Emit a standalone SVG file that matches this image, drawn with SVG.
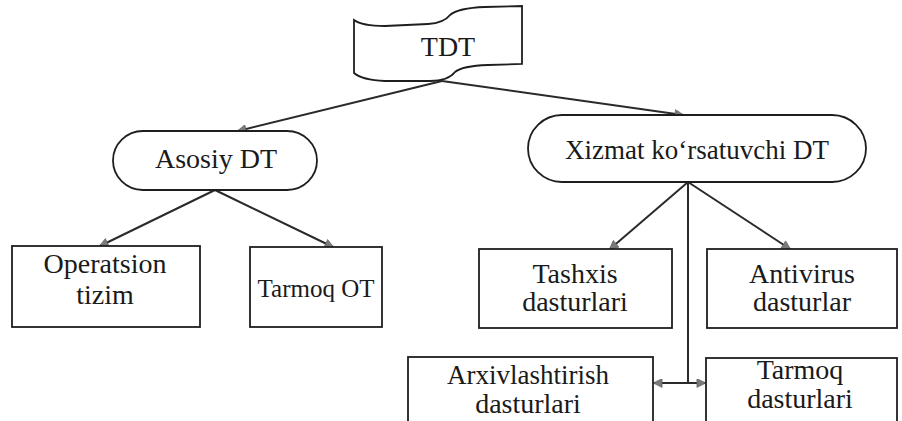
<svg xmlns="http://www.w3.org/2000/svg" width="902" height="421" viewBox="0 0 902 421">
  <style>
    .shape { fill: #ffffff; stroke: #1e1e1e; stroke-width: 1.8; }
    .edge { fill: none; stroke: #2a2a2a; stroke-width: 2; }
    .label { font-family: Liberation Serif, Tinos, DejaVu Serif, Noto Serif, Times New Roman, Times, serif; font-size: 28px; fill: #1a1a1a; text-anchor: middle; }
    .sm { font-size: 27px; }
  </style>
  <defs>
    <marker id="head" viewBox="0 0 10 10" refX="9" refY="5" markerWidth="11" markerHeight="9" markerUnits="userSpaceOnUse" orient="auto-start-reverse">
      <path d="M0,0 L10,5 L0,10 Z" fill="#7a7a7a" stroke="#555" stroke-width="0.6"/>
    </marker>
  </defs>
  <rect width="902" height="421" fill="#ffffff"/>

  <g id="connectors">
    <line class="edge" x1="442" y1="81" x2="238" y2="131" marker-end="url(#head)"/>
    <line class="edge" x1="442" y1="81" x2="683" y2="115" marker-end="url(#head)"/>
    <line class="edge" x1="215" y1="190" x2="100" y2="246" marker-end="url(#head)"/>
    <line class="edge" x1="215" y1="190" x2="333" y2="247" marker-end="url(#head)"/>
    <line class="edge" x1="688" y1="182" x2="610" y2="249" marker-end="url(#head)"/>
    <line class="edge" x1="688" y1="182" x2="790" y2="249" marker-end="url(#head)"/>
    <line class="edge" x1="688" y1="182" x2="688" y2="383"/>
    <line class="edge" x1="654" y1="383" x2="705" y2="383" marker-start="url(#head)" marker-end="url(#head)"/>
  </g>

  <g id="tdt">
    <path class="shape" d="M354,20 Q362,26 385,26 L428,24 Q444,23 450,15 Q458,8 485,7 L522,6 L522,64 L488,65 Q462,66 455,72 Q448,81 430,81 L385,81 Q362,80 354,73 Z"/>
    <text class="label" x="448" y="56">TDT</text>
  </g>

  <g id="asosiy-dt">
    <rect class="shape" x="113" y="131" width="204" height="59" rx="30" ry="29.5"/>
    <text class="label" x="216" y="168">Asosiy DT</text>
  </g>

  <g id="xizmat-dt">
    <rect class="shape" x="528" y="115" width="338" height="67" rx="34" ry="33.5"/>
    <text class="label sm" x="697" y="159">Xizmat ko‘rsatuvchi DT</text>
  </g>

  <g id="operatsion-tizim">
    <rect class="shape" x="12" y="246" width="188" height="81"/>
    <text class="label" x="105" y="273">Operatsion</text>
    <text class="label" x="105" y="304">tizim</text>
  </g>

  <g id="tarmoq-ot">
    <rect class="shape" x="250" y="247" width="132" height="80"/>
    <text class="label" x="316" y="297" style="font-size:25px">Tarmoq OT</text>
  </g>

  <g id="tashxis">
    <rect class="shape" x="479" y="249" width="193" height="79"/>
    <text class="label" x="575" y="283">Tashxis</text>
    <text class="label" x="575" y="311">dasturlari</text>
  </g>

  <g id="antivirus">
    <rect class="shape" x="707" y="249" width="190" height="79"/>
    <text class="label" x="802" y="283">Antivirus</text>
    <text class="label" x="802" y="311">dasturlar</text>
  </g>

  <g id="arxivlashtirish">
    <rect class="shape" x="408" y="357" width="245" height="70"/>
    <text class="label sm" x="528" y="384">Arxivlashtirish</text>
    <text class="label" x="528" y="413">dasturlari</text>
  </g>

  <g id="tarmoq-dasturlari">
    <rect class="shape" x="706" y="358" width="191" height="70"/>
    <text class="label" x="800" y="379">Tarmoq</text>
    <text class="label" x="800" y="408">dasturlari</text>
  </g>
</svg>
